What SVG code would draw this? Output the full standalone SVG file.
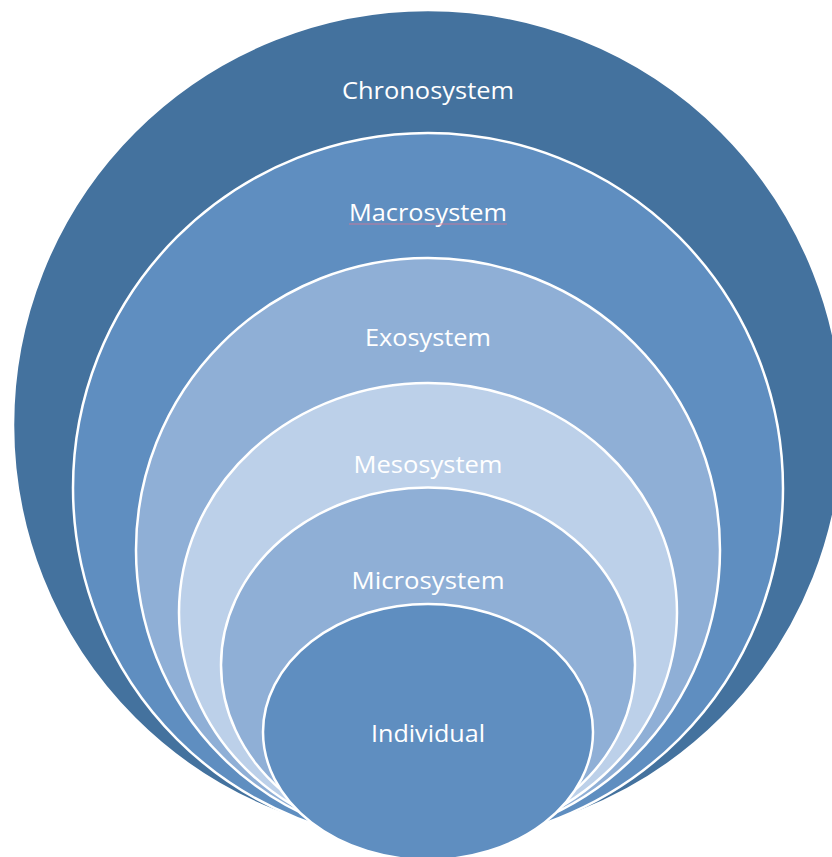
<svg xmlns="http://www.w3.org/2000/svg" width="832" height="857" viewBox="0 0 832 857">
<style>
.ring{stroke:#FFFFFF;stroke-width:2.5}
.lbl{font-family:"Open Sans","Noto Sans",sans-serif;font-size:24px;fill:#FFFFFF;text-anchor:middle}
</style>
<rect width="832" height="857" fill="#FFFFFF"/>
<g id="chronosystem">
<ellipse class="ring" cx="428" cy="425" rx="415" ry="415" fill="#44729E" stroke="none"/>
<text class="lbl" x="428" y="99" textLength="172" lengthAdjust="spacingAndGlyphs">Chronosystem</text>
</g>
<g id="macrosystem">
<ellipse class="ring" cx="428" cy="488" rx="355" ry="355" fill="#5F8EC0"/>
<text class="lbl" x="428" y="221" textLength="158" lengthAdjust="spacingAndGlyphs">Macrosystem</text>
<line x1="349" y1="224" x2="507" y2="224" stroke="#D07A9A" stroke-width="1" opacity="0.9"/>
</g>
<g id="exosystem">
<ellipse class="ring" cx="428" cy="550" rx="292" ry="292" fill="#8FAFD6"/>
<text class="lbl" x="428" y="346" textLength="126" lengthAdjust="spacingAndGlyphs">Exosystem</text>
</g>
<g id="mesosystem">
<ellipse class="ring" cx="428" cy="612.5" rx="249" ry="229.5" fill="#BCD0E9"/>
<text class="lbl" x="428" y="473" textLength="149" lengthAdjust="spacingAndGlyphs">Mesosystem</text>
</g>
<g id="microsystem">
<ellipse class="ring" cx="428" cy="665" rx="207" ry="177.5" fill="#8FAFD6"/>
<text class="lbl" x="428" y="589" textLength="153" lengthAdjust="spacingAndGlyphs">Microsystem</text>
</g>
<g id="individual">
<ellipse class="ring" cx="428" cy="732" rx="165" ry="128" fill="#5F8EC0"/>
<text class="lbl" x="428" y="742" textLength="114" lengthAdjust="spacingAndGlyphs">Individual</text>
</g>
<g id="connectors"/>
</svg>
